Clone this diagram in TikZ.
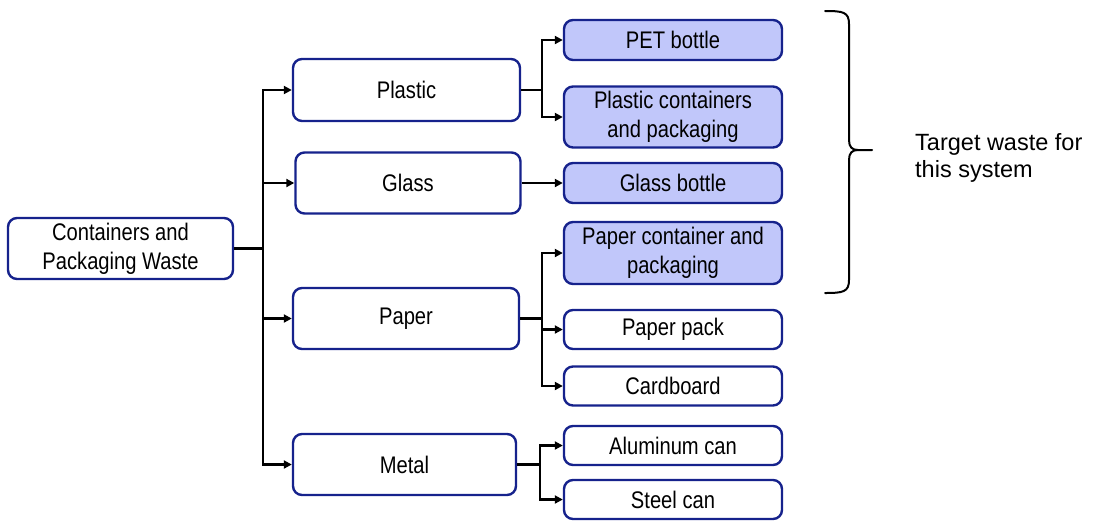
\documentclass[tikz,border=0pt]{standalone}
\usepackage{fontspec}
\setmainfont{Liberation Sans}
\newfontfamily\boxfont[FakeStretch=0.84]{Liberation Sans}
\usetikzlibrary{arrows.meta}
\definecolor{navy}{RGB}{22,34,140}
\definecolor{lav}{RGB}{193,199,250}
\tikzset{
  box/.style={draw=navy, line width=2.4pt, rounded corners=9pt, fill=white,
    align=center, inner sep=0pt, font=\boxfont\fontsize{24}{29}\selectfont},
  hbox/.style={box, fill=lav},
  conn/.style={line width=2.3pt, draw=black},
  arr/.style={conn, -{Triangle[length=8pt,width=8pt]}}
}
\begin{document}
\begin{tikzpicture}[x=1pt,y=-1pt]
\useasboundingbox (0,0) rectangle (1099,520);
% root and mid level
\node[box, minimum width=225pt, minimum height=61pt] (root) at (120.5,248.5) {Containers and\\Packaging Waste};
\node[box, minimum width=227pt, minimum height=62pt] (plastic) at (406.5,90) {Plastic};
\node[box, minimum width=225pt, minimum height=61pt] (glass) at (408,183) {Glass};
\node[box, minimum width=226pt, minimum height=61pt] (paper) at (406,318.5) {Paper};
\node[box, minimum width=223pt, minimum height=61pt] (metal) at (404.5,464.5) {Metal};
% leaves
\node[hbox, minimum width=218pt, minimum height=40pt] (pet) at (673,40) {PET bottle};
\node[hbox, minimum width=218pt, minimum height=61pt] (pcp) at (673,117) {Plastic containers\\and packaging};
\node[hbox, minimum width=218pt, minimum height=40pt] (gb) at (673,183) {Glass bottle};
\node[hbox, minimum width=218pt, minimum height=62pt] (pcap) at (673,253) {Paper container and\\packaging};
\node[box, minimum width=218pt, minimum height=39pt] (pp) at (673,329.5) {Paper pack};
\node[box, minimum width=218pt, minimum height=39pt] (cb) at (673,386) {Cardboard};
\node[box, minimum width=218pt, minimum height=39pt] (al) at (673,445.5) {Aluminum can};
\node[box, minimum width=218pt, minimum height=39pt] (st) at (673,499.5) {Steel can};
% trunk
\coordinate (t) at (263,248.5);
\draw[conn] (root.east) -- (t);
\draw[arr] (t) |- (plastic.west);
\draw[arr] (t) |- (glass.west);
\draw[arr] (t) |- (paper.west);
\draw[arr] (t) |- (metal.west);
% plastic branch
\coordinate (pj) at (542,90);
\draw[conn] (plastic.east) -- (pj);
\draw[arr] (pj) |- (pet.west);
\draw[arr] (pj) |- (pcp.west);
% glass
\draw[arr] (glass.east) -- (gb.west);
% paper branch
\coordinate (qj) at (542,318.5);
\draw[conn] (paper.east) -- (qj);
\draw[arr] (qj) |- (pcap.west);
\draw[arr] (qj) |- (pp.west);
\draw[arr] (qj) |- (cb.west);
% metal branch
\coordinate (mj) at (540,464.5);
\draw[conn] (metal.east) -- (mj);
\draw[arr] (mj) |- (al.west);
\draw[arr] (mj) |- (st.west);
% brace
\draw[line width=2pt, line cap=round] (825,11) .. controls (843,11) and (849,12) .. (849,24) -- (849,140) .. controls (849,147) and (852,150) .. (858,150) -- (872,150);
\draw[line width=2pt, line cap=round] (825,293) .. controls (843,293) and (849,292) .. (849,280) -- (849,160) .. controls (849,153) and (852,150) .. (858,150);
\node[anchor=west, align=left, font=\fontsize{23.5}{27}\selectfont, inner sep=0pt] (lbl) at (915,158) {Target waste for\\this system};
\end{tikzpicture}
\end{document}
